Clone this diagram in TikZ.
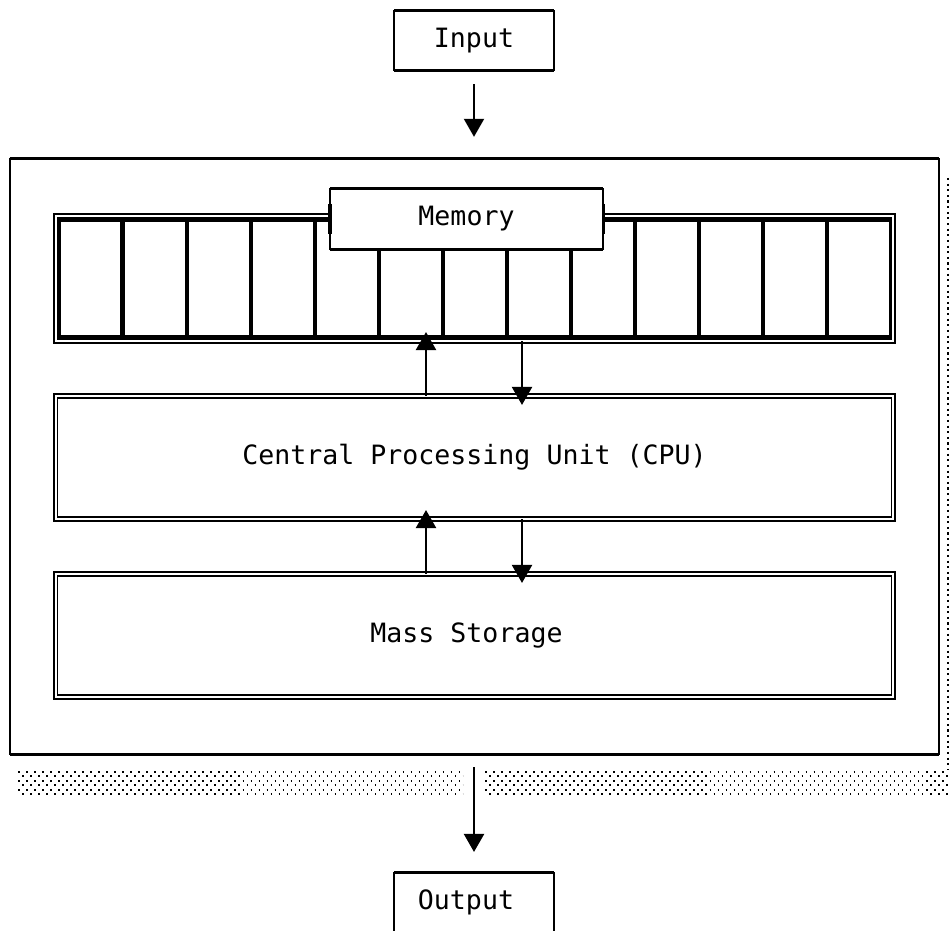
\documentclass[tikz,border=0pt]{standalone}
\usepackage{fontspec}
\setmonofont{DejaVu Sans Mono}
\usetikzlibrary{positioning, arrows.meta}

\begin{document}
\begin{tikzpicture}[x=0.01cm, y=-0.01cm,
    every node/.style = {font=\ttfamily\fontsize{7.56}{9}\selectfont, inner sep=0pt, outer sep=0pt},
    plainbox/.style = {draw, line width=0.45pt},
    bar/.style = {line width=0.85pt},
    dbl/.style = {draw, double, line width=0.55pt, double distance=0.45pt},
    cell/.style = {draw, line width=0.6pt, minimum width=0.62cm, minimum height=1.16cm},
    arr/.style = {draw, line width=0.6pt, -{Triangle[length=0.18cm, width=0.2cm]}},
    shade/.style = {line width=0.57pt, dash pattern=on 0.43pt off 1.85pt},
    shadeb/.style = {shade, dash phase=1.14pt}]
    \useasboundingbox (0,0) rectangle (951,931);
    % boxes
    \node[plainbox, minimum width=1.60cm, minimum height=0.59cm] (input) at (474,40.5) {Input};
    \node[plainbox, minimum width=9.29cm, minimum height=5.95cm] (sys) at (474.5,456.5) {};
    \node[dbl, minimum width=8.37cm, minimum height=1.25cm] (strip) at (474.5,278.5) {};
    \node[cell] (c1) at (90.5,278.5) {};
    \node[cell] (c2) [right = 0.02cm of c1] {};
    \node[cell] (c3) [right = 0.02cm of c2] {};
    \node[cell] (c4) [right = 0.02cm of c3] {};
    \node[cell] (c5) [right = 0.02cm of c4] {};
    \node[cell] (c6) [right = 0.02cm of c5] {};
    \node[cell] (c7) [right = 0.02cm of c6] {};
    \node[cell] (c8) [right = 0.02cm of c7] {};
    \node[cell] (c9) [right = 0.02cm of c8] {};
    \node[cell] (c10) [right = 0.02cm of c9] {};
    \node[cell] (c11) [right = 0.02cm of c10] {};
    \node[cell] (c12) [right = 0.02cm of c11] {};
    \node[cell] (c13) [right = 0.02cm of c12] {};
    \node[plainbox, fill=white, minimum width=2.73cm, minimum height=0.60cm] (mem) at (466.5,219) {Memory};
    \node[dbl, minimum width=8.37cm, minimum height=1.23cm] (cpu) at (474.5,457.5) {Central Processing Unit (CPU)};
    \node[dbl, minimum width=8.37cm, minimum height=1.23cm] (store) at (474.5,635.5) {Mass Storage\phantom{x}};
    \node[plainbox, minimum width=1.60cm, minimum height=0.59cm] (output) at (474,902.5) {Output\phantom{x}};
    % heavy top and bottom edges
    \draw[bar] (input.north west) -- (input.north east);
    \draw[bar] (input.south west) -- (input.south east);
    \draw[bar] (output.north west) -- (output.north east);
    \draw[bar] (sys.north west) -- (sys.north east);
    \draw[bar] (sys.south west) -- (sys.south east);
    \draw[bar] (mem.north west) -- (mem.north east);
    \draw[bar] (mem.south west) -- (mem.south east);
    % memory joints
    \draw[line width=0.9pt] (mem.west) ++(0,-15) -- ++(0,30);
    \draw[line width=0.9pt] (mem.east) ++(0,-15) -- ++(0,30);
    \draw[bar] ([xshift=-0.07cm] c5.east |- mem.south) -- ++(16,0);
    \draw[bar] ([xshift=-0.07cm] c6.east |- mem.south) -- ++(16,0);
    \draw[bar] ([xshift=-0.07cm] c7.east |- mem.south) -- ++(16,0);
    \draw[bar] ([xshift=-0.07cm] c8.east |- mem.south) -- ++(16,0);
    % arrows
    \coordinate (up) at (426,0);
    \coordinate (dn) at (522,0);
    \path[arr, shorten <=0.14cm, shorten >=0.22cm] (input.south) -- (input.south |- sys.north);
    \path[arr, shorten >=-0.09cm] (cpu.north -| up) -- (strip.south -| up);
    \path[arr, shorten >=-0.09cm] (strip.south -| dn) -- (cpu.north -| dn);
    \path[arr, shorten >=-0.09cm] (store.north -| up) -- (cpu.south -| up);
    \path[arr, shorten >=-0.09cm] (cpu.south -| dn) -- (store.north -| dn);
    \path[arr, shorten <=0.13cm, shorten >=0.21cm] (output.north |- sys.south) -- (output.north);
    % shadow
    \draw[line width=0.6pt, dash pattern=on 0.6pt off 1pt] (948,178) -- (948,770);
    \draw[shade] (18,772) -- (463,772) (485,772) -- (948,772);
    \draw[shadeb] (18,776.4) -- (463,776.4) (485,776.4) -- (948,776.4);
    \draw[shade] (18,780.8) -- (463,780.8) (485,780.8) -- (948,780.8);
    \draw[shadeb] (18,785.2) -- (463,785.2) (485,785.2) -- (948,785.2);
    \draw[shade] (18,789.6) -- (463,789.6) (485,789.6) -- (948,789.6);
    \draw[shadeb] (18,794) -- (463,794) (485,794) -- (948,794);
\end{tikzpicture}
\end{document}
